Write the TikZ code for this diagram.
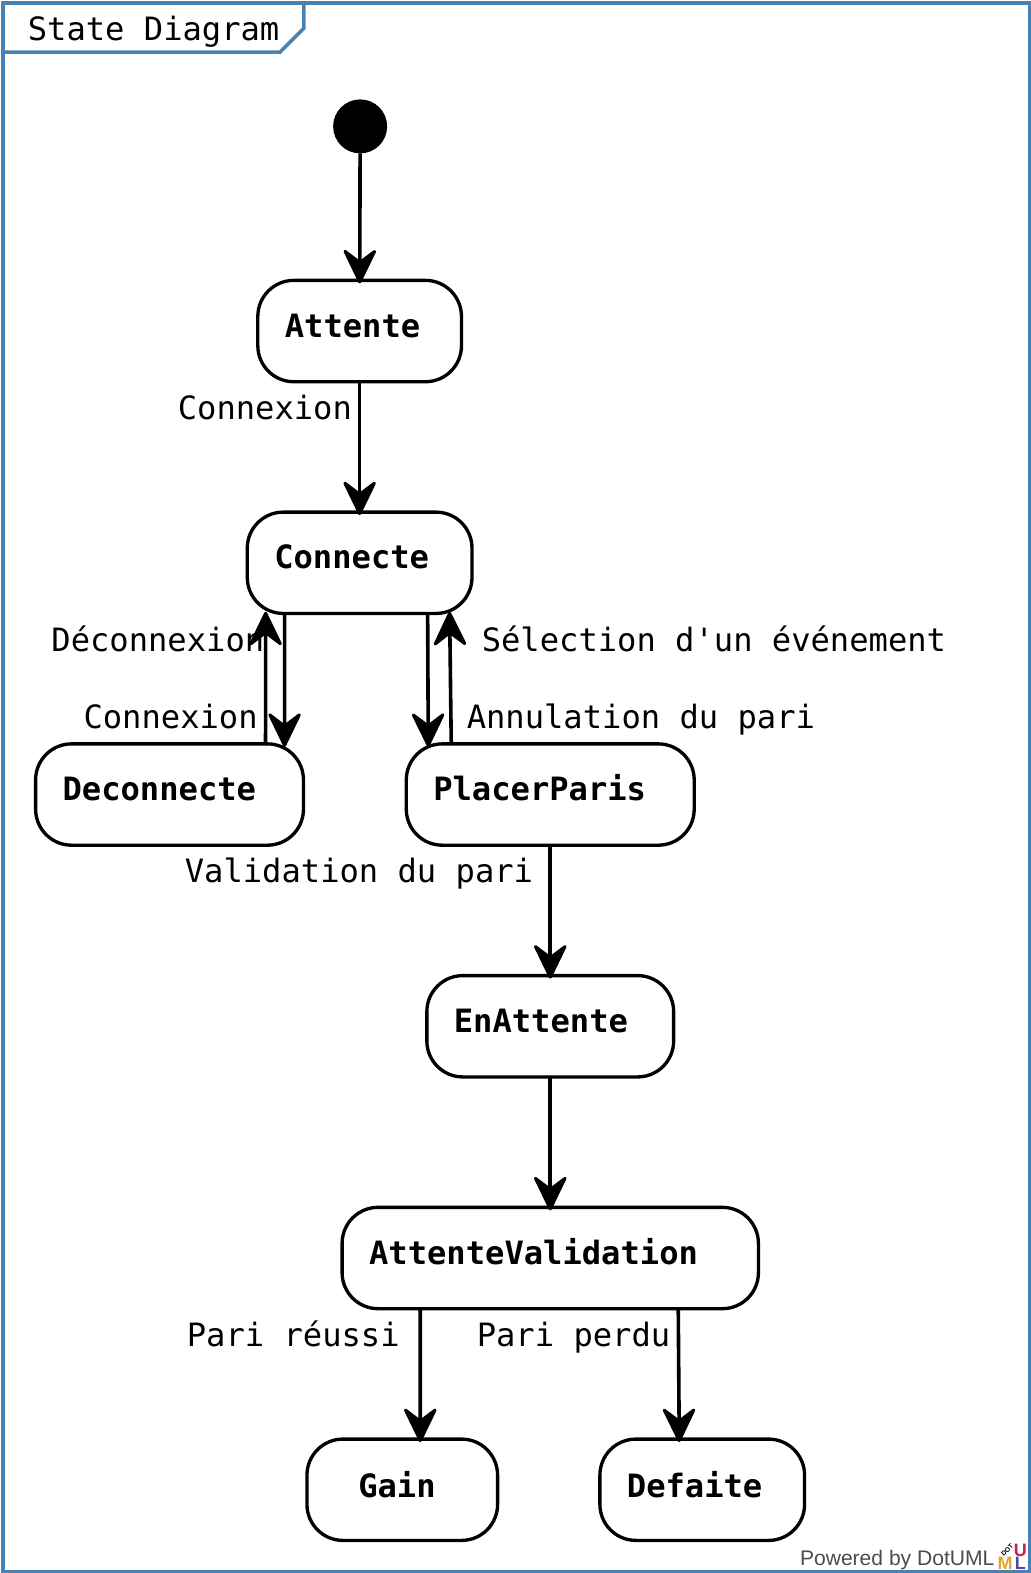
\documentclass[tikz,border=0pt]{standalone}
\usepackage{fontspec}
\setmonofont{DejaVu Sans Mono}
\setsansfont{Liberation Sans}
\usetikzlibrary{arrows.meta,positioning}
\definecolor{framecol}{RGB}{70,130,180}
\definecolor{logored}{RGB}{200,30,80}
\definecolor{logoyellow}{RGB}{225,165,40}
\definecolor{logoblue}{RGB}{80,70,160}

\begin{document}
\begin{tikzpicture}[
		x=0.7524pt,y=-0.7524pt,
		statebox/.style={draw,rectangle,rounded corners=27pt,line width=2.5pt,outer sep=0pt,minimum height=76pt,minimum width=#1*0.7524pt,text width=#1*0.7524pt-40.5pt,inner xsep=20.25pt,inner ysep=0pt,align=left,text height=10.5pt,text depth=1.5pt,font=\ttfamily\bfseries\fontsize{24.1}{28}\selectfont},
		trans/.style={draw,line width=2.7pt,shorten >=-2.25pt,-{Stealth[length=29pt,width=28pt,inset=10.5pt,round,line width=2.25pt]}},
		translabel/.style={anchor=base west,inner sep=0pt,font=\ttfamily\fontsize{24.1}{28}\selectfont},
		logoletter/.style={inner sep=0pt,font=\sffamily\bfseries\fontsize{13.5}{14}\selectfont}
		]
		
		% Cornice
		\useasboundingbox (0,0) rectangle (1026.75,1568);
		\draw[framecol,line width=2.6pt] (3,3) rectangle (1026,1567);
		\draw[framecol,line width=2.6pt] (3,52) -- (279,52) -- (303,28) -- (303,3);
		\node[translabel] (title) at (27.5,40) {State Diagram};
		
		% Stati
		\node[circle,fill=black,minimum size=40.5pt,inner sep=0pt,outer sep=0pt] (init) at (359,126) {};
		\node[statebox=203] (attente) at (358.5,330) {Attente};
		\node[statebox=224] (connecte) at (358.5,561) {Connecte};
		\node[statebox=267] (deconnecte) at (169,792) {Deconnecte};
		\node[statebox=287] (placerparis) at (548.5,792) {PlacerParis};
		\node[statebox=246] (enattente) at (548.5,1023) {EnAttente};
		\node[statebox=415] (attentevalidation) at (548.5,1254) {AttenteValidation};
		\node[statebox=190,text width=66pt,inner xsep=37.5pt,text height=13pt] (gain) at (401,1485) {Gain};
		\node[statebox=204,text height=13pt] (defaite) at (700,1485) {Defaite};
		
		% Transizioni
		\draw[trans] (init) -- (attente);
		\draw[trans] (attente) -- (connecte);
		\draw[trans] ([xshift=-56.25pt]connecte.south) -- ([xshift=86.25pt]deconnecte.north);
		\draw[trans] ([xshift=72pt]deconnecte.north) -- ([xshift=-70.5pt,yshift=-1pt]connecte.south);
		\draw[trans] ([xshift=51pt]connecte.south) -- ([xshift=-91.5pt]placerparis.north);
		\draw[trans] ([xshift=-74.25pt]placerparis.north) -- ([xshift=67.5pt,yshift=-1pt]connecte.south);
		\draw[trans] (placerparis) -- (enattente);
		\draw[trans] (enattente) -- (attentevalidation);
		\draw[trans] ([xshift=-97.5pt]attentevalidation.south) -- ([xshift=13.5pt]gain.north);
		\draw[trans] ([xshift=96pt]attentevalidation.south) -- ([xshift=-17.25pt]defaite.north);
		
		% Etichette
		\node[translabel] (lconnexiona) at (177,418) {Connexion};
		\node[translabel] (ldeconnexion) at (51,649) {Déconnexion};
		\node[translabel] (lselection) at (480,649) {Sélection d'un événement};
		\node[translabel] (lconnexionb) at (83,726) {Connexion};
		\node[translabel] (lannulation) at (465,726) {Annulation du pari};
		\node[translabel] (lvalidation) at (184,880) {Validation du pari};
		\node[translabel] (lreussi) at (186,1342) {Pari réussi};
		\node[translabel] (lperdu) at (475,1342) {Pari perdu};
		
		% Logo
		\node[anchor=base east,inner sep=0pt,text=black!70,font=\sffamily\fontsize{15.8}{18}\selectfont] (powered) at (991.5,1561) {Powered by DotUML};
		\node[logoletter,text=logored] (logou) at (1017,1545) {U};
		\node[logoletter,text=logoyellow] (logom) at (1002,1558) {M};
		\node[logoletter,text=logoblue] (logol) at (1017,1558) {L};
		\node[inner sep=0pt,rotate=45,font=\sffamily\bfseries\fontsize{5}{5}\selectfont] (logodot) at (1004,1545) {DOT};
		
	\end{tikzpicture}
\end{document}
